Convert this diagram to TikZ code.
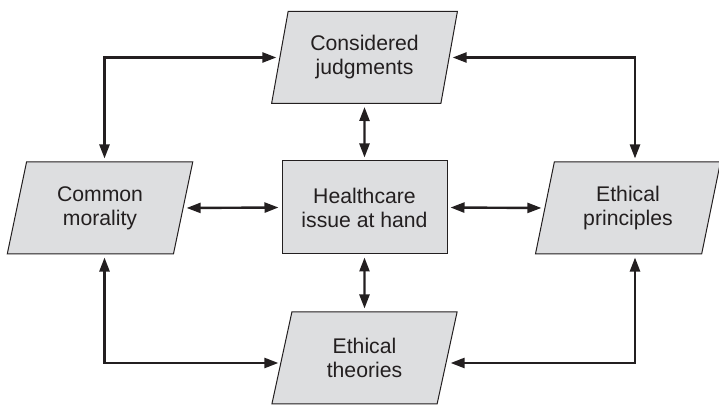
\documentclass[tikz,border=0pt]{standalone}
\usepackage{fontspec}
\setmainfont{Liberation Sans}
\usetikzlibrary{shapes.geometric, arrows.meta}

\definecolor{boxfill}{RGB}{221,222,224}
\definecolor{inkgray}{RGB}{35,31,32}

\begin{document}
\begin{tikzpicture}[
    x=0.5pt, y=-0.5pt,
    font=\fontsize{10.6}{12}\selectfont,
    every node/.style={align=center, text=inkgray},
    para/.style={trapezium, trapezium left angle=77, trapezium right angle=103,
                trapezium stretches=true, draw=inkgray, line width=0.5pt,
                fill=boxfill, minimum width=93pt, minimum height=46pt},
    box/.style={rectangle, draw=inkgray, line width=0.5pt, fill=boxfill,
                minimum width=82.5pt, minimum height=46.5pt},
    arr/.style={{Triangle[length=7pt, width=5pt]}-{Triangle[length=7pt, width=5pt]},
                line width=1.2pt, draw=inkgray,
                shorten <=1.5pt, shorten >=1.5pt}
  ]

  \useasboundingbox (0,0) rectangle (719,405);

  %% ---- Middle row ----
  \node[box]  (issue)  at (364.5,207.5) {Healthcare\\issue at hand};
  \node[para] (common) at (100,208)     {Common\\morality};
  \node[para] (princ)  at (628,208)     {Ethical\\principles};

  %% ---- Top and bottom ----
  \node[para] (judg)   at (364.5,57.5)  {Considered\\judgments};
  \node[para] (theo)   at (364.5,358)   {Ethical\\theories};

  %% ---- Straight arrows ----
  \draw[arr] (judg.south)  -- (issue.north);
  \draw[arr] (issue.south) -- (theo.north);
  \draw[arr] (common.east) -- (issue.west);
  \draw[arr] (issue.east)  -- (princ.west);

  %% ---- Corner arrows ----
  \draw[arr] ([xshift=2.25pt]common.north) |- (judg.west);
  \draw[arr] ([xshift=3.5pt]princ.north)   |- (judg.east);
  \draw[arr] ([xshift=2.25pt]common.south) |- ([yshift=-2.5pt]theo.west);
  \draw[arr] ([xshift=3.5pt]princ.south)   |- ([yshift=-2.5pt]theo.east);

\end{tikzpicture}
\end{document}
